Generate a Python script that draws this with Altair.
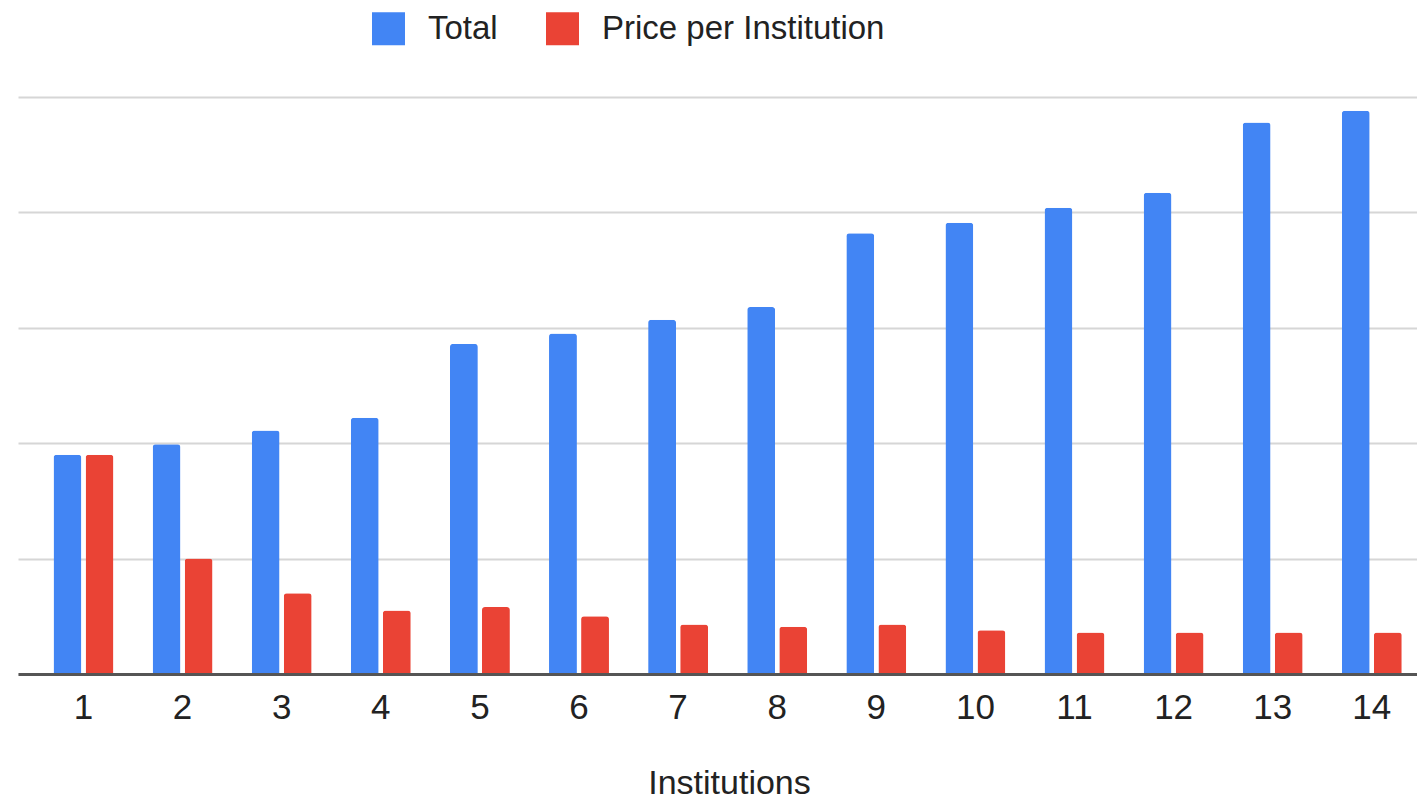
import altair as alt
import pandas as pd

institutions = ["1", "2", "3", "4", "5", "6", "7", "8", "9", "10", "11", "12", "13", "14"]
total = [1.90, 1.99, 2.11, 2.22, 2.86, 2.95, 3.07, 3.18, 3.82, 3.91, 4.04, 4.17, 4.78, 4.88]
price = [1.90, 1.00, 0.70, 0.55, 0.58, 0.50, 0.43, 0.41, 0.43, 0.38, 0.36, 0.36, 0.36, 0.36]
series_names = ["Total", "Price per Institution"]
colors = ["#4285F4", "#EA4335"]

rows = []
for inst, t, p in zip(institutions, total, price):
    rows.append({"Institution": inst, "Series": series_names[0], "Value": t})
    rows.append({"Institution": inst, "Series": series_names[1], "Value": p})
df = pd.DataFrame(rows)

chart = alt.Chart(df).mark_bar(cornerRadiusTopLeft=3, cornerRadiusTopRight=3).encode(
    x=alt.X(
        "Institution:N", sort=institutions, title="Institutions",
        scale=alt.Scale(paddingInner=0.395, paddingOuter=0.256, align=0.70),
        axis=alt.Axis(labelAngle=0, ticks=False, domainColor="#555555", domainWidth=3,
                      labelFontSize=35, labelPadding=16, titleFontSize=34, titlePadding=41,
                      titleX=711, titleAlign="center",
                      labelColor="#222222", titleColor="#222222", titleFontWeight="normal",
                      grid=False, zindex=1),
    ),
    xOffset=alt.XOffset("Series:N", sort=series_names, scale=alt.Scale(paddingInner=0.13)),
    y=alt.Y(
        "Value:Q", scale=alt.Scale(domain=[0, 5]),
        axis=alt.Axis(values=[0, 1, 2, 3, 4, 5], labels=False, ticks=False, domain=False,
                      title=None, gridColor="#d6d6d6", gridWidth=2),
    ),
    color=alt.Color(
        "Series:N", sort=series_names,
        scale=alt.Scale(domain=series_names, range=colors),
        legend=alt.Legend(title=None, orient="none", legendX=354, legendY=-85,
                          direction="horizontal", symbolType="square", symbolSize=1089,
                          labelFontSize=33, labelOffset=23, columnPadding=48, labelLimit=0,
                          symbolStrokeWidth=0, labelColor="#222222", padding=0),
    ),
).properties(
    width=1399, height=577,
    padding={"left": 10, "top": 4, "right": 0, "bottom": 0},
).configure(font="Liberation Sans").configure_view(stroke=None)

chart.save("out.html", embed_options={"renderer": "svg", "actions": False})
